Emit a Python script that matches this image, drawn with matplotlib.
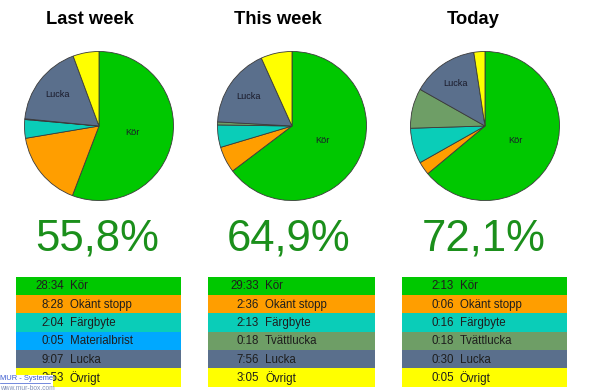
import matplotlib
matplotlib.use("Agg")
import matplotlib.pyplot as plt
from matplotlib.patches import Rectangle
import numpy as np

plt.rcParams['font.family'] = ['Liberation Sans', 'DejaVu Sans']

# ---- data ----
titles = ["Last week", "This week", "Today"]
percents = ["55,8%", "64,9%", "72,1%"]

lw_labels = ["Kör", "Okänt stopp", "Färgbyte", "Materialbrist", "Lucka", "Övrigt"]
lw_times = ["28:34", "8:28", "2:04", "0:05", "9:07", "2:53"]

tw_labels = ["Kör", "Okänt stopp", "Färgbyte", "Tvättlucka", "Lucka", "Övrigt"]
tw_times = ["29:33", "2:36", "2:13", "0:18", "7:56", "3:05"]

td_labels = ["Kör", "Okänt stopp", "Färgbyte", "Tvättlucka", "Lucka", "Övrigt"]
td_times = ["2:13", "0:06", "0:16", "0:18", "0:30", "0:05"]

colors = {
    "Kör": "#00C800",
    "Okänt stopp": "#FF9E00",
    "Färgbyte": "#0ACDB8",
    "Materialbrist": "#00A8FF",
    "Tvättlucka": "#6E9E66",
    "Lucka": "#5A6F8C",
    "Övrigt": "#FFFF00",
}

panels = [(lw_labels, lw_times), (tw_labels, tw_times), (td_labels, td_times)]


def to_minutes(t):
    h, m = t.split(":")
    return int(h) * 60 + int(m)


W, H = 589, 391
fig = plt.figure(figsize=(W / 100, H / 100), dpi=100)

# layout (pixels)
pie_cx = [99, 292, 485]
pie_cy = 126
pie_r = 76
title_x = [90, 278, 473]
pct_x = [97, 289, 484]
tab_x0 = [16, 208, 402]
tab_x1 = [181, 375, 567]
time_x = [64, 259, 454]
lab_x = [70, 265, 460]
tab_top = 276.7
row_h = 18.33

for i, (labels, times) in enumerate(panels):
    vals = [to_minutes(t) for t in times]
    cols = [colors[l] for l in labels]
    ax = fig.add_axes([(pie_cx[i] - pie_r) / W, (H - pie_cy - pie_r) / H,
                       2 * pie_r / W, 2 * pie_r / H])
    wedges, _ = ax.pie(vals, colors=cols, startangle=90, counterclock=False,
                       wedgeprops=dict(edgecolor="#3a3a3a", linewidth=0.6))
    ax.set_xlim(-1.02, 1.02)
    ax.set_ylim(-1.02, 1.02)
    ax.set_aspect("equal")
    ax.axis("off")
    for w, l in zip(wedges, labels):
        if l in ("Kör", "Lucka"):
            ang = np.deg2rad((w.theta1 + w.theta2) / 2)
            r = 0.45 if l == "Kör" else 0.7
            ax.text(r * np.cos(ang), r * np.sin(ang), l, ha="center", va="center",
                    fontsize=6.6, color="#1a1a2a")

ov = fig.add_axes([0, 0, 1, 1])
ov.set_xlim(0, W)
ov.set_ylim(H, 0)
ov.axis("off")
ov.patch.set_alpha(0)

for i, (labels, times) in enumerate(panels):
    ov.text(title_x[i], 20, titles[i], ha="center", va="center",
            fontsize=13.2, fontweight="bold", color="black")
    ov.text(pct_x[i], 239, percents[i], ha="center", va="center",
            fontsize=31.5, color="#1b8f1b")
    for j, (l, t) in enumerate(zip(labels, times)):
        y0 = tab_top + j * row_h
        ov.add_patch(Rectangle((tab_x0[i], y0), tab_x1[i] - tab_x0[i], row_h,
                               facecolor=colors[l], edgecolor="none"))
        ov.text(time_x[i], y0 + row_h / 2 + 0.5, t, ha="right", va="center",
                fontsize=8.3, color="#1e1e1e")
        ov.text(lab_x[i], y0 + row_h / 2 + 0.5, l, ha="left", va="center",
                fontsize=8.3, color="#1e1e1e")

# watermark
ov.add_patch(Rectangle((0, 375), 53, 16, facecolor="white", edgecolor="none", zorder=5))
ov.text(0, 379, "MUR - Systemet", ha="left", va="center", fontsize=5.4,
        color="#3b5bd0", zorder=6)
ov.plot([0, 50], [383, 383], color="#3b5bd0", lw=0.5, zorder=6)
ov.text(0, 389, "www.mur-box.com", ha="left", va="center", fontsize=4.8,
        color="#8090b8", zorder=6)

fig.savefig("out.png", dpi=100)
